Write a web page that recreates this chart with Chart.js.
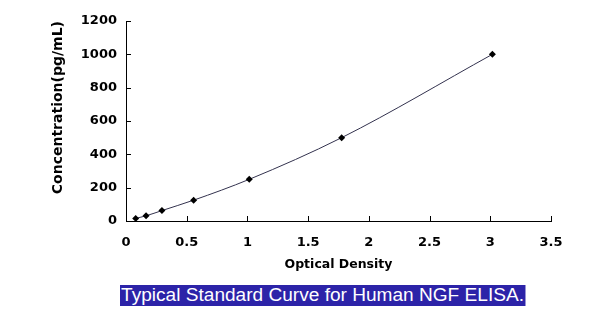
<!DOCTYPE html>
<html>
<head>
<meta charset="utf-8">
<script src="https://cdn.jsdelivr.net/npm/chart.js@4/dist/chart.umd.min.js"></script>
<style>
  html, body { margin: 0; padding: 0; background: #fff; }
  #wrap { position: relative; width: 600px; height: 329px; }
  #wrap canvas { position: absolute; left: 0; top: 0; }
  #caption {
    position: absolute; left: 120px; top: 285px; height: 21px;
    line-height: 21px; background: #2c23a8; color: #fff;
    font-family: "Liberation Sans", Arial, sans-serif; font-size: 17.5px;
    white-space: nowrap; padding: 0 1px;
    transform: scaleX(1.09); transform-origin: 0 0;
  }
</style>
</head>
<body>
<div id="wrap">
  <canvas id="chart" width="600" height="329"></canvas>
  <div id="caption">Typical Standard Curve for Human NGF ELISA.</div>
</div>
<script>
// Standard curve: optical density vs. concentration
const opticalDensity = [0.08, 0.165, 0.296, 0.557, 1.015, 1.776, 3.017];
const concentration  = [15.6, 31.2, 62.5, 125, 250, 500, 1000];
const xTickValues = [0, 0.5, 1, 1.5, 2, 2.5, 3, 3.5];
const yTickValues = [0, 200, 400, 600, 800, 1000, 1200];

const points = opticalDensity.map((x, i) => ({ x: x, y: concentration[i] }));

const tickFont = { family: '"DejaVu Sans", sans-serif', size: 13, weight: 'bold' };

// short tick marks drawn inward from both axes
const innerTicks = {
  id: 'innerTicks',
  afterDraw(chart) {
    const ctx = chart.ctx;
    const xs = chart.scales.x, ys = chart.scales.y;
    ctx.save();
    ctx.strokeStyle = '#000';
    ctx.lineWidth = 1;
    ctx.beginPath();
    xTickValues.forEach(v => {
      const px = Math.round(xs.getPixelForValue(v)) + 0.5;
      ctx.moveTo(px, ys.bottom);
      ctx.lineTo(px, ys.bottom - 5);
    });
    yTickValues.forEach(v => {
      const py = Math.round(ys.getPixelForValue(v)) + 0.5;
      ctx.moveTo(xs.left, py);
      ctx.lineTo(xs.left + 5, py);
    });
    ctx.stroke();
    ctx.restore();
  }
};

new Chart(document.getElementById('chart'), {
  type: 'scatter',
  data: {
    datasets: [{
      data: points,
      showLine: true,
      borderColor: '#33324e',
      borderWidth: 1,
      tension: 0.4,
      cubicInterpolationMode: 'monotone',
      pointStyle: 'rectRot',
      pointRadius: 3.5,
      pointBackgroundColor: '#000',
      pointBorderColor: '#000',
      pointBorderWidth: 0
    }]
  },
  plugins: [innerTicks],
  options: {
    responsive: false,
    animation: false,
    layout: { padding: { left: 0, right: 49, top: 21, bottom: 57 } },
    plugins: { legend: { display: false }, tooltip: { enabled: false } },
    scales: {
      x: {
        type: 'linear',
        min: 0, max: 3.5,
        afterBuildTicks(scale) { scale.ticks = xTickValues.map(v => ({ value: v })); },
        afterFit(scale) { scale.height = 51; },
        grid: { display: false, drawTicks: false },
        border: { display: true, color: '#000', width: 1 },
        ticks: {
          color: '#000', font: tickFont, padding: 14,
          callback: v => String(v)
        },
        title: {
          display: true, text: 'Optical Density', color: '#000',
          font: { family: '"DejaVu Sans", sans-serif', size: 12.5, weight: 'bold' },
          padding: { top: 0, bottom: 0 }
        }
      },
      y: {
        type: 'linear',
        min: 0, max: 1200,
        afterBuildTicks(scale) { scale.ticks = yTickValues.map(v => ({ value: v })); },
        afterFit(scale) { scale.width = 126; },
        grid: { display: false, drawTicks: false },
        border: { display: true, color: '#000', width: 1 },
        ticks: { color: '#000', font: tickFont, padding: 9, callback: v => String(v) },
        title: {
          display: true, text: 'Concentration(pg/mL)', color: '#000',
          align: 'end',
          font: { family: '"DejaVu Sans", sans-serif', size: 14, weight: 'bold' },
          padding: { top: 50, bottom: 0 }
        }
      }
    }
  }
});
</script>
</body>
</html>
